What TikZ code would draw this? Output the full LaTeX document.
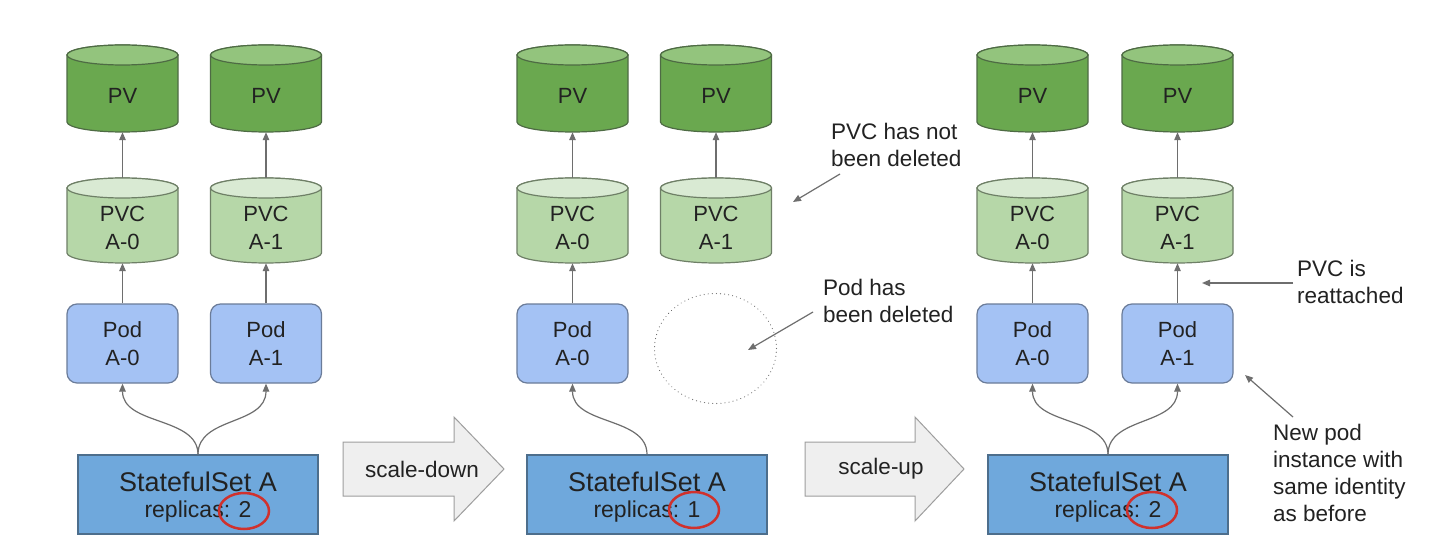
\documentclass[tikz,border=0pt]{standalone}
\usepackage{fontspec}
\setmainfont{Liberation Sans}
\usetikzlibrary{arrows.meta,shapes.geometric}
\definecolor{pvfill}{HTML}{6AA84F}
\definecolor{pvtopfill}{HTML}{93C47D}
\definecolor{pvline}{HTML}{4E6B44}
\definecolor{pvcfill}{HTML}{B6D7A8}
\definecolor{pvctopfill}{HTML}{D9EAD3}
\definecolor{pvcline}{HTML}{6E7F66}
\definecolor{podfill}{HTML}{A4C2F4}
\definecolor{podline}{HTML}{6B7C99}
\definecolor{ssfill}{HTML}{6FA8DC}
\definecolor{ssline}{HTML}{4D6E8C}
\definecolor{arrfill}{HTML}{EFEFEF}
\definecolor{arrline}{HTML}{9E9E9E}
\definecolor{linegray}{HTML}{6E6E6E}
\definecolor{ringred}{HTML}{D0312D}
\definecolor{txt}{HTML}{222222}
\newcommand{\cyl}[6]{%
  \path[#5body] ({#2-55.5},{#3+10}) -- ({#2-55.5},{#4-10})
     arc[start angle=180,end angle=0,x radius=55.5,y radius=10]
     -- ({#2+55.5},{#3+10})
     arc[start angle=0,end angle=-180,x radius=55.5,y radius=10] -- cycle;
  \path[#5top] (#2,{#3+10}) ellipse[x radius=55.5,y radius=10];
  \node[frame, minimum height={(#4-#3)*1pt}] (#1) at (#2,{(#3+#4)/2}) {};
  \node[lbl] (#1-t) at (#2,{(#3+#4)/2+7}) {#6};
}
\begin{document}
\begin{tikzpicture}[x=1pt,y=-1pt,
  conn/.style={draw=linegray, line width=1.2pt, -{Triangle[length=8pt,width=6.5pt]}},
  lbl/.style={font=\fontsize{22}{28}\selectfont, text=txt, align=center, inner sep=0pt},
  annot/.style={font=\fontsize{22.5}{27}\selectfont, text=txt, align=left, inner sep=0pt, anchor=west},
  podbox/.style={draw=podline, fill=podfill, rounded corners=10pt, minimum width=111pt, minimum height=79pt, line width=1.2pt, lbl},
  ssbox/.style={draw=ssline, fill=ssfill, minimum width=240pt, minimum height=79pt, line width=1.2pt, inner sep=0pt},
  frame/.style={minimum width=111pt, inner sep=0pt, draw=none},
  pvbody/.style={fill=pvfill, draw=pvline, line width=1.2pt},
  pvtop/.style={fill=pvtopfill, draw=pvline, line width=1.2pt},
  pvcbody/.style={fill=pvcfill, draw=pvcline, line width=1.2pt},
  pvctop/.style={fill=pvctopfill, draw=pvcline, line width=1.2pt},
  bigarrow/.style={fill=arrfill, draw=arrline, line width=1pt},
  redring/.style={draw=ringred, line width=2.5pt},
  sstitle/.style={font=\fontsize{27}{30}\selectfont, text=txt, inner sep=0pt},
  sssub/.style={font=\fontsize{23}{26}\selectfont, text=txt, inner sep=0pt},
  arrtext/.style={font=\fontsize{22.5}{27}\selectfont, text=txt, inner sep=0pt}
]
\useasboundingbox (0,0) rectangle (1440,548);
\fill[white] (0,0) rectangle (1440,548);

% ---------- Panel 1 ----------
\cyl{pv1a}{122.5}{45}{132}{pv}{PV}
\cyl{pv1b}{266}{45}{132}{pv}{PV}
\cyl{pvc1a}{122.5}{178}{263}{pvc}{PVC\\A-0}
\cyl{pvc1b}{266}{178}{263}{pvc}{PVC\\A-1}
\node[podbox] (pod1a) at (122.5,343.5) {Pod\\A-0};
\node[podbox] (pod1b) at (266,343.5) {Pod\\A-1};
\node[ssbox] (ss1) at (198,494.5) {};
\node[sstitle] (ss1t) at (198,482) {StatefulSet A};
\node[sssub] (ss1s) at (198,512) {replicas: 2};
\draw[redring] (244,511) ellipse[x radius=25, y radius=18];
\draw[conn] (pvc1a.north) -- (pv1a.south);
\draw[conn] (pvc1b.north) -- (pv1b.south);
\draw[conn] (pod1a.north) -- (pvc1a.south);
\draw[conn] (pod1b.north) -- (pvc1b.south);
\draw[conn] (ss1.north) .. controls ++(0,-38) and ++(0,42) .. (pod1a.south);
\draw[conn] (ss1.north) .. controls ++(0,-38) and ++(0,42) .. (pod1b.south);

% ---------- scale-down arrow ----------
\path[bigarrow] (343,442) -- (454,442) -- (454,417) -- (504,469) -- (454,521) -- (454,496) -- (343,496) -- cycle;
\node[arrtext] (down) at (422,469) {scale-down};

% ---------- Panel 2 ----------
\cyl{pv2a}{572.5}{45}{132}{pv}{PV}
\cyl{pv2b}{716}{45}{132}{pv}{PV}
\cyl{pvc2a}{572.5}{178}{263}{pvc}{PVC\\A-0}
\cyl{pvc2b}{716}{178}{263}{pvc}{PVC\\A-1}
\node[podbox] (pod2a) at (572.5,343.5) {Pod\\A-0};
\node[ellipse, draw=linegray, line width=1.1pt, dash pattern=on 0.1pt off 4pt, line cap=round, minimum width=122pt, minimum height=110pt, inner sep=0pt] (gone) at (715.5,348.5) {};
\node[ssbox] (ss2) at (647,494.5) {};
\node[sstitle] (ss2t) at (647,482) {StatefulSet A};
\node[sssub] (ss2s) at (647,512) {replicas: 1};
\draw[redring] (694,510) ellipse[x radius=25, y radius=18];
\draw[conn] (pvc2a.north) -- (pv2a.south);
\draw[conn] (pvc2b.north) -- (pv2b.south);
\draw[conn] (pod2a.north) -- (pvc2a.south);
\draw[conn] (ss2.north) .. controls ++(0,-38) and ++(0,42) .. (pod2a.south);

\node[annot] (note1) at (831,144.5) {PVC has not\\been deleted};
\coordinate (note1s) at (840,174);
\coordinate (note1e) at (793,202);
\draw[conn] (note1s) -- (note1e);
\node[annot] (note2) at (823,301) {Pod has\\been deleted};
\coordinate (note2s) at (813,312);
\coordinate (note2e) at (748,350);
\draw[conn] (note2s) -- (note2e);

% ---------- scale-up arrow ----------
\path[bigarrow] (805,442) -- (915,442) -- (915,417) -- (964,469) -- (915,521) -- (915,496) -- (805,496) -- cycle;
\node[arrtext] (up) at (881,469) {scale-up};

% ---------- Panel 3 ----------
\cyl{pv3a}{1032.5}{45}{132}{pv}{PV}
\cyl{pv3b}{1177.5}{45}{132}{pv}{PV}
\cyl{pvc3a}{1032.5}{178}{263}{pvc}{PVC\\A-0}
\cyl{pvc3b}{1177.5}{178}{263}{pvc}{PVC\\A-1}
\node[podbox] (pod3a) at (1032.5,343.5) {Pod\\A-0};
\node[podbox] (pod3b) at (1177.5,343.5) {Pod\\A-1};
\node[ssbox] (ss3) at (1108,494.5) {};
\node[sstitle] (ss3t) at (1108,482) {StatefulSet A};
\node[sssub] (ss3s) at (1108,512) {replicas: 2};
\draw[redring] (1152,510) ellipse[x radius=25, y radius=18];
\draw[conn] (pvc3a.north) -- (pv3a.south);
\draw[conn] (pvc3b.north) -- (pv3b.south);
\draw[conn] (pod3a.north) -- (pvc3a.south);
\draw[conn] (pod3b.north) -- (pvc3b.south);
\draw[conn] (ss3.north) .. controls ++(0,-38) and ++(0,42) .. (pod3a.south);
\draw[conn] (ss3.north) .. controls ++(0,-38) and ++(0,42) .. (pod3b.south);

\node[annot] (note3) at (1297,282) {PVC is\\reattached};
\coordinate (note3s) at (1293,283);
\coordinate (note3e) at (1202,283);
\draw[conn] (note3s) -- (note3e);
\node[annot] (note4) at (1273,472.5) {New pod\\instance with\\same identity\\as before};
\coordinate (note4s) at (1293,417);
\coordinate (note4e) at (1245,375);
\draw[conn] (note4s) -- (note4e);
\end{tikzpicture}
\end{document}
